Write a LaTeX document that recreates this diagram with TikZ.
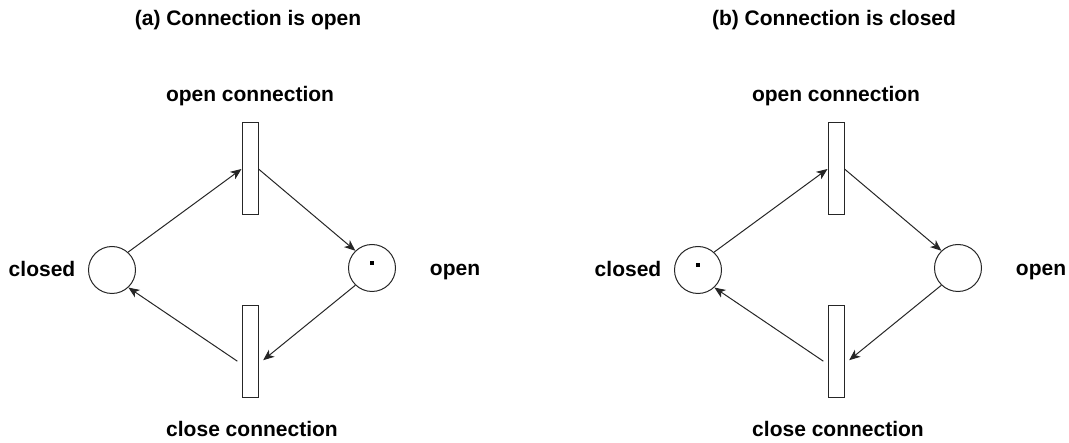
\documentclass[tikz,border=0pt]{standalone}
\usepackage{fontspec}
\setmainfont{Liberation Sans}
\usetikzlibrary{arrows.meta,positioning}
\tikzset{
  place/.style={circle,draw=black!85,line width=1pt,minimum size=47pt,inner sep=0pt},
  trans/.style={rectangle,draw=black!85,line width=1pt,fill=white,
                minimum width=16pt,minimum height=92pt,inner sep=0pt},
  token/.style={rectangle,fill=black,minimum size=4pt,inner sep=0pt},
  arc/.style={-{Stealth[length=11pt,width=9pt,inset=3pt]},draw=black!85,line width=1pt},
  lbl/.style={anchor=base,inner sep=0pt,font=\fontsize{21}{25}\selectfont\bfseries},
}
\begin{document}
\begin{tikzpicture}[x=1pt,y=-1pt]
  \useasboundingbox (0,0) rectangle (1069,443);
  \foreach \dx/\tg/\tok/\ttl in {0/a/po/{(a) Connection is open},
      586/b/pc/{(b) Connection is closed}}{
    \node[lbl] (title\tg) at (248+\dx,26) {\ttl};
    % places and transitions
    \node[place] (pc\tg) at (112+\dx,270) {};
    \node[place] (po\tg) at (372+\dx,268) {};
    \node[trans] (ot\tg) at (250+\dx,169) {};
    \node[trans] (ct\tg) at (250+\dx,352) {};
    \node[token] (tok\tg) at ([yshift=5pt]\tok\tg.center) {};
    % labels
    \node[lbl] (lc\tg) at (42+\dx,277) {closed};
    \node[lbl] (lo\tg) at (455+\dx,276) {open};
    \node[lbl] (lot\tg) at (250+\dx,102) {open connection};
    \node[lbl] (lct\tg) at (252+\dx,437) {close connection};
    % arcs
    \draw[arc] (pc\tg.48) -- (ot\tg.west);
    \draw[arc] (ot\tg.east) -- (po\tg.134);
    \draw[arc,shorten >=6pt] (po\tg.226) -- ([yshift=-12pt]ct\tg.east);
    \draw[arc,shorten <=5pt] ([yshift=-12pt]ct\tg.west) -- (pc\tg.-47);
  }
\end{tikzpicture}
\end{document}
